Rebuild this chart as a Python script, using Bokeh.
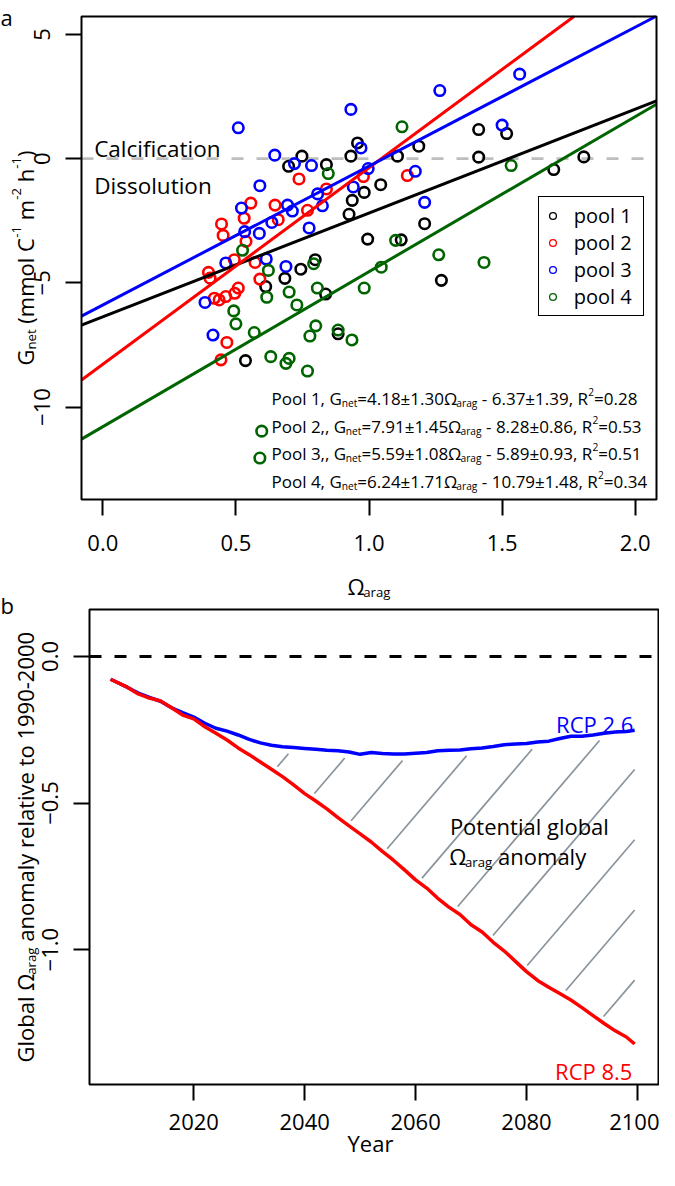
import numpy as np
from bokeh.plotting import figure
from bokeh.models import (Range1d, FixedTicker, Label, Legend, LegendItem, BoxAnnotation, LinearAxis)
from bokeh.embed import file_html
from bokeh.resources import INLINE

FONT = "Open Sans"

# ---------------- Panel a data ----------------
pool1_omega = [0.957, 0.932, 0.748, 0.698, 0.840, 0.982, 0.937, 0.925, 0.995, 0.798, 0.744, 0.684, 0.612, 0.837,
               0.884, 0.536, 1.107, 1.187, 1.412, 1.517, 1.412, 1.694, 1.807, 1.044, 1.209, 1.121, 1.272]
pool1_gnet = [0.63, 0.10, 0.10, -0.31, -0.24, -1.36, -1.68, -2.24, -3.24, -4.07, -4.45, -4.82, -5.15, -5.45,
              -7.05, -8.13, 0.10, 0.50, 1.17, 1.01, 0.06, -0.44, 0.07, -1.05, -2.62, -3.27, -4.90]
pool2_omega = [0.737, 0.840, 0.979, 0.556, 0.647, 0.769, 0.531, 0.659, 0.446, 0.452, 0.538, 0.494, 0.572, 0.397,
               0.403, 0.590, 0.509, 0.437, 0.419, 0.462, 0.496, 0.466, 0.444, 1.144]
pool2_gnet = [-0.82, -1.22, -0.72, -1.79, -1.87, -2.08, -2.40, -2.46, -2.63, -3.09, -3.33, -4.07, -4.18, -4.58,
              -4.81, -4.85, -5.21, -5.69, -5.62, -5.55, -5.42, -7.40, -8.10, -0.68]
pool3_omega = [0.509, 0.932, 0.646, 0.720, 0.784, 0.970, 0.997, 0.590, 0.941, 0.807, 0.521, 0.694, 0.712, 0.825,
               0.775, 0.635, 0.533, 0.588, 0.462, 0.614, 0.688, 0.384, 0.414, 1.266, 1.566, 1.500, 1.174, 1.209]
pool3_gnet = [1.24, 1.98, 0.14, -0.20, -0.28, 0.43, -0.40, -1.09, -1.14, -1.42, -1.99, -1.87, -2.11, -1.90,
              -2.79, -2.57, -2.94, -3.01, -4.20, -4.04, -4.34, -5.79, -7.10, 2.74, 3.40, 1.35, -0.51, -1.76]
pool4_omega = [0.847, 0.525, 0.622, 0.792, 0.700, 0.806, 0.982, 0.616, 0.729, 0.492, 0.500, 0.569, 0.800, 0.778,
               0.884, 0.936, 0.631, 0.700, 0.688, 0.769, 0.597, 0.590, 1.124, 1.534, 1.100, 1.262, 1.432, 1.046]
pool4_gnet = [-0.60, -3.69, -4.50, -4.23, -5.37, -5.21, -5.21, -5.58, -5.89, -6.13, -6.65, -7.00, -6.73, -7.14,
              -6.90, -7.30, -7.97, -8.04, -8.24, -8.55, -10.97, -12.05, 1.28, -0.28, -3.29, -3.87, -4.18, -4.37]

pool_names = ["pool 1", "pool 2", "pool 3", "pool 4"]
pool_colors = ["#000000", "#FF0000", "#0000FF", "#006400"]
fit_slope = [4.18, 7.91, 5.59, 6.24]
fit_intercept = [-6.37, -8.28, -5.89, -10.79]
eq_prefix = ["Pool 1, G", "Pool 2,, G", "Pool 3,, G", "Pool 4, G"]
eq_slope_txt = ["=4.18\u00b11.30\u03a9", "=7.91\u00b11.45\u03a9", "=5.59\u00b11.08\u03a9", "=6.24\u00b11.71\u03a9"]
eq_icept_txt = [" - 6.37\u00b11.39, R", " - 8.28\u00b10.86, R", " - 5.89\u00b10.93, R", " - 10.79\u00b11.48, R"]
eq_r2_txt = ["=0.28", "=0.53", "=0.51", "=0.34"]

xa_ticks = [0.0, 0.5, 1.0, 1.5, 2.0]
xa_labels = ["0.0", "0.5", "1.0", "1.5", "2.0"]
ya_ticks = [-10, -5, 0, 5]
ya_labels = ["\u221210", "\u22125", "0", "5"]

# ---------------- Panel b data ----------------
years = [2005, 2008, 2010, 2012, 2014, 2016, 2018, 2020, 2022, 2024, 2026, 2028, 2030, 2032, 2034, 2036,
         2038, 2040, 2042, 2044, 2046, 2048, 2050, 2052, 2054, 2056, 2058, 2060, 2062, 2064, 2066, 2068,
         2070, 2072, 2074, 2076, 2078, 2080, 2082, 2084, 2086, 2088, 2090, 2092, 2094, 2096, 2098, 2099.5]
rcp26 = [-0.078, -0.105, -0.125, -0.140, -0.153, -0.175, -0.192, -0.207, -0.228, -0.245, -0.255, -0.268,
         -0.283, -0.295, -0.303, -0.308, -0.311, -0.314, -0.317, -0.320, -0.322, -0.326, -0.334, -0.328,
         -0.331, -0.333, -0.333, -0.330, -0.328, -0.322, -0.320, -0.319, -0.315, -0.312, -0.307, -0.301,
         -0.299, -0.297, -0.292, -0.289, -0.280, -0.272, -0.272, -0.268, -0.262, -0.258, -0.256, -0.252]
rcp85 = [-0.078, -0.105, -0.128, -0.142, -0.152, -0.175, -0.200, -0.213, -0.240, -0.262, -0.285, -0.312,
         -0.335, -0.360, -0.385, -0.410, -0.438, -0.468, -0.493, -0.520, -0.550, -0.578, -0.605, -0.633,
         -0.665, -0.695, -0.728, -0.762, -0.790, -0.825, -0.855, -0.880, -0.915, -0.940, -0.975, -1.005,
         -1.040, -1.075, -1.105, -1.128, -1.150, -1.172, -1.198, -1.225, -1.252, -1.277, -1.298, -1.322]
xb_ticks = [2020, 2040, 2060, 2080, 2100]
xb_labels = ["2020", "2040", "2060", "2080", "2100"]
yb_ticks = [-1.0, -0.5, 0.0]
yb_labels = ["\u22121.0", "\u22120.5", "0.0"]

# ---------------- geometry (page pixels; the page has an 8px margin) ----------------
W, H = 659, 1160
PAGE_L, PAGE_T = 8, 8
XA0, XA1, YA0, YA1 = -0.08, 2.08, -13.72, 5.72
A_BOX = (89, 664, 24, 507)
XB0, XB1, YB0, YB1 = 2001.2, 2103.8, -1.46, 0.16
B_BOX = (97, 666, 617, 1092)


def mapper(box, xr, yr):
    L, R, T, B = box
    sx = (R - L) / (xr[1] - xr[0])
    sy = (B - T) / (yr[1] - yr[0])

    def fx(px):
        return xr[0] + (px - L) / sx

    def fy(py):
        return yr[1] - (py - T) / sy
    return fx, fy


aX, aY = mapper(A_BOX, (XA0, XA1), (YA0, YA1))
bX, bY = mapper(B_BOX, (XB0, XB1), (YB0, YB1))
B = {"x_range_name": "bx", "y_range_name": "by"}

p = figure(frame_width=W, frame_height=H,
           x_range=Range1d(aX(PAGE_L), aX(PAGE_L + W)), y_range=Range1d(aY(PAGE_T + H), aY(PAGE_T)),
           output_backend="svg", toolbar_location=None, title=None, min_border=0,
           min_border_left=0, min_border_right=0, min_border_top=0, min_border_bottom=0)
p.extra_x_ranges = {"bx": Range1d(bX(PAGE_L), bX(PAGE_L + W))}
p.extra_y_ranges = {"by": Range1d(bY(PAGE_T + H), bY(PAGE_T))}
p.xgrid.visible = False
p.ygrid.visible = False
p.outline_line_color = None
p.background_fill_color = "white"
p.border_fill_color = "white"

# axes: one pair per panel, fixed at the edges of each panel's box
p.xaxis.fixed_location = YA0
p.yaxis.fixed_location = XA0
bx_axis = LinearAxis(x_range_name="bx", y_range_name="by", fixed_location=YB0)
by_axis = LinearAxis(x_range_name="bx", y_range_name="by", fixed_location=XB0)
p.add_layout(bx_axis, "below")
p.add_layout(by_axis, "left")


def style_axis(ax, ticks, labels, vertical, standoff):
    ax.ticker = FixedTicker(ticks=ticks)
    ax.major_label_overrides = dict(zip(ticks, labels))
    ax.axis_line_color = None
    ax.major_tick_out = 16
    ax.major_tick_in = 0
    ax.minor_tick_out = 0
    ax.minor_tick_in = 0
    ax.minor_tick_line_color = None
    ax.major_tick_line_width = 2
    ax.major_tick_line_color = "black"
    ax.major_label_text_font = FONT
    ax.major_label_text_font_size = "22px"
    ax.major_label_text_color = "black"
    ax.major_label_standoff = standoff
    if vertical:
        ax.major_label_orientation = "vertical"


style_axis(p.xaxis[0], xa_ticks, xa_labels, False, 19)
style_axis(p.yaxis[0], ya_ticks, ya_labels, True, 15)
style_axis(bx_axis, xb_ticks, xb_labels, False, 13)
style_axis(by_axis, yb_ticks, yb_labels, True, 15)

p.add_layout(BoxAnnotation(left=XA0, right=XA1, bottom=YA0, top=YA1, fill_alpha=0.0,
                           line_color="black", line_width=2, line_alpha=1.0))
p.add_layout(BoxAnnotation(left=XB0, right=XB1, bottom=YB0, top=YB1, fill_alpha=0.0,
                           line_color="black", line_width=2, line_alpha=1.0, **B))

# ---------------- text helpers ----------------
EM = {' ': .26, '(': .296, ')': .296, ',': .245, '-': .322, '.': .266, '=': .572, '\u00b1': .572,
      '\u2212': .572, '\u03a9': .72, 'C': .631, 'D': .729, 'G': .728, 'P': .602, 'R': .635, 'Y': .564,
      'a': .56, 'b': .611, 'c': .476, 'e': .561, 'g': .541, 'h': .613, 'i': .253, 'l': .253, 'm': .93,
      'n': .613, 'o': .604, 'r': .408, 's': .477, 't': .353, 'u': .613, 'v': .501, 'y': .502}
for _d in "0123456789":
    EM[_d] = .572


def tw(s, size):
    return sum(EM.get(c, .55) for c in s) * size


def add_text(x, y, text, size, color="black", align="left", angle=0.0, rn=None):
    p.add_layout(Label(x=x, y=y, text=text, text_font=FONT, text_font_size=f"{size}px",
                       text_color=color, text_align=align, text_baseline="alphabetic", angle=angle,
                       **(rn or {})))


def compose_h(fx, fy, x0, y0, pieces, rn=None):
    x = x0
    for text, size, dy in pieces:
        lead = len(text) - len(text.lstrip(" "))
        x += tw(" " * lead, size)
        t = text.lstrip(" ")
        add_text(fx(x), fy(y0 + dy), t, size, rn=rn)
        x += tw(t, size)


def compose_v(fx, fy, xb, yc, pieces, rn=None):
    total = sum(tw(t, s) for t, s, _ in pieces)
    y = yc + total / 2.0
    for text, size, dy in pieces:
        lead = len(text) - len(text.lstrip(" "))
        y -= tw(" " * lead, size)
        t = text.lstrip(" ")
        add_text(fx(xb + dy), fy(y), t, size, angle=np.pi / 2, rn=rn)
        y -= tw(t, size)


# ---------------- Panel a ----------------
p.segment(x0=[XA0], y0=[0], x1=[XA1], y1=[0], line_color="#BEBEBE", line_width=2.6, line_dash="12 13")

xs_all = [pool1_omega, pool2_omega, pool3_omega, pool4_omega]
ys_all = [pool1_gnet, pool2_gnet, pool3_gnet, pool4_gnet]
for xs, ys, col in zip(xs_all, ys_all, pool_colors):
    p.scatter(xs, ys, marker="circle", size=10.5, fill_color=None, line_color=col, line_width=2.6)

for m, b, col in zip(fit_slope, fit_intercept, pool_colors):
    lo, hi = XA0, XA1
    if m * hi + b > YA1:
        hi = (YA1 - b) / m
    if m * lo + b < YA0:
        lo = (YA0 - b) / m
    fxv = np.array([lo, hi])
    p.line(fxv, m * fxv + b, line_color=col, line_width=3)

items = []
for name, col in zip(pool_names, pool_colors):
    r = p.scatter(x=[-50.0], y=[-50.0], marker="circle", size=8, fill_color=None, line_color=col,
                  line_width=1.3)
    items.append(LegendItem(label=name, renderers=[r]))
leg = Legend(items=items, location=(545.7 - PAGE_L, PAGE_T + H - 324.3), label_text_font=FONT,
             label_text_font_size="20px", label_text_color="black", glyph_width=17, glyph_height=27,
             label_height=27, label_width=64, label_standoff=13, spacing=0, padding=5, margin=0,
             border_line_color="black", border_line_width=1.5, border_line_alpha=1.0,
             background_fill_color="white", background_fill_alpha=1.0)
p.add_layout(leg)

add_text(aX(8), aY(24), "a", 22)
add_text(aX(101.7), aY(156), "Calcification", 22.5)
add_text(aX(101.7), aY(192.7), "Dissolution", 22.5)

EQ, SUB = 17, 10.2
eq_base = [405.5, 433.5, 461, 489]
for i in range(4):
    compose_h(aX, aY, 279, eq_base[i], [
        (eq_prefix[i], EQ, 0), ("net", SUB, 4.5), (eq_slope_txt[i], EQ, 0), ("arag", SUB, 4.5),
        (eq_icept_txt[i], EQ, 0), ("2", SUB, -6.3), (eq_r2_txt[i], EQ, 0)])

xt_pieces = [("\u03a9", 22, 0), ("arag", 13.2, 6.0)]
xt_w = sum(tw(t, s) for t, s, _ in xt_pieces)
compose_h(aX, aY, (A_BOX[0] + A_BOX[1]) / 2 - xt_w / 2, 593, xt_pieces)

compose_v(aX, aY, 32, (A_BOX[2] + A_BOX[3]) / 2, [
    ("G", 22, 0), ("net", 13.2, 6.6), (" (mmol C", 22, 0), ("-1", 13.2, -8), (" m", 22, 0),
    ("-2", 13.2, -8), (" h", 22, 0), ("-1", 13.2, -8), (")", 22, 0)])

# ---------------- Panel b ----------------
def bref(px):  # reference pixel -> this page's pixel (x)
    return B_BOX[0] + (px - 96.7) * (B_BOX[1] - B_BOX[0]) / 573.6


def bref_y(py):  # reference pixel -> this page's pixel (y)
    return B_BOX[2] + (py - 617) * (B_BOX[3] - B_BOX[2]) / (1099 - 617)


p.segment(x0=[XB0], y0=[0], x1=[XB1], y1=[0], line_color="black", line_width=3, line_dash="12 13", **B)

yr = np.array(years, dtype=float)
grid = np.linspace(yr[0], yr[-1], 6000)
inset = 0.022
upper = np.interp(grid, yr, rcp26) - inset
lower = np.interp(grid, yr, rcp85) + inset
px_per_year = (B_BOX[1] - B_BOX[0]) / (XB1 - XB0)
px_per_unit = (B_BOX[3] - B_BOX[2]) / (YB1 - YB0)
k_slope = np.tan(np.radians(49.5)) * px_per_year / px_per_unit
hx0, hy0, hx1, hy1 = [], [], [], []
for n in range(-10, 14):
    c = 2047.7 + n * 10.81
    Lh = -0.336 + k_slope * (grid - c)
    mask = (Lh <= upper) & (Lh >= lower)
    if not mask.any():
        continue
    d = np.diff(np.concatenate([[0], mask.astype(int), [0]]))
    starts = np.where(d == 1)[0]
    ends = np.where(d == -1)[0] - 1
    for s, e in zip(starts, ends):
        if e - s < 2:
            continue
        hx0.append(grid[s]); hy0.append(Lh[s]); hx1.append(grid[e]); hy1.append(Lh[e])
p.segment(hx0, hy0, hx1, hy1, line_color="#8A949C", line_width=1.7, **B)

p.line(years, rcp26, line_color="#0000FF", line_width=3.5, **B)
p.line(years, rcp85, line_color="#FF0000", line_width=3.5, **B)

add_text(bX(8), bY(612), "b", 22, rn=B)
add_text(bX(bref(645)), bY(bref_y(732.7)), "RCP 2.6", 22, color="#0000FF", align="right", rn=B)
add_text(bX(bref(644)), bY(bref_y(1085)), "RCP 8.5", 22, color="#FF0000", align="right", rn=B)
add_text(bX(bref(460)), bY(bref_y(836.7)), "Potential global", 22, rn=B)
compose_h(bX, bY, bref(459.3), bref_y(866.7),
          [("\u03a9", 22, 0), ("arag", 13.2, 6.8), (" anomaly", 22, 0)], rn=B)

add_text(bX(378), bY(1150), "Year", 22, align="center", rn=B)
compose_v(bX, bY, 32, (B_BOX[2] + B_BOX[3]) / 2, [
    ("Global \u03a9", 22, 0), ("arag", 13.2, 6.6), (" anomaly relative to 1990-2000", 22, 0)], rn=B)

with open("out.html", "w") as f:
    f.write(file_html(p, INLINE))
